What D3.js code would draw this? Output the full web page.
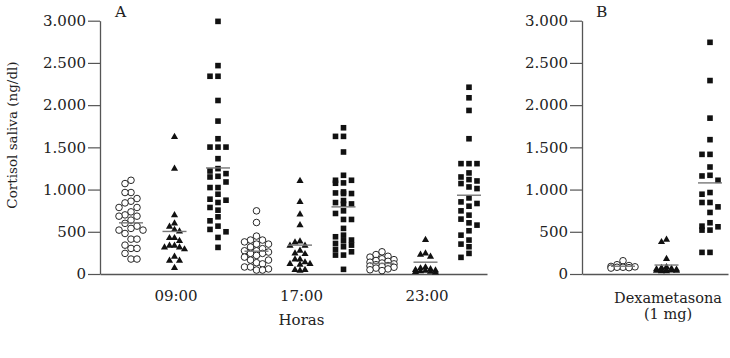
<!DOCTYPE html>
<html>
<head>
<meta charset="utf-8">
<script src="https://cdn.jsdelivr.net/npm/d3@7"></script>
<style>
  body { margin: 0; background: #fff; }
  text { font-family: "DejaVu Serif", serif; fill: #222; }
</style>
</head>
<body>
<div id="chart"></div>
<script>
// valores (ng/dl)
var horas = ["09:00", "17:00", "23:00"];
var series = ["circulo", "triangulo", "cuadrado"];
var yTicks = [0, 500, 1000, 1500, 2000, 2500, 3000];

var circ0900 = [1110, 1071, 965, 965, 894, 862, 842, 788, 788, 736, 700, 685, 685, 638, 600, 567, 540, 520, 520, 480, 413, 413, 342, 303, 303, 244, 177, 177];
var tri0900 = [1630, 1255, 705, 606, 567, 531, 511, 433, 433, 400, 342, 342, 323, 323, 300, 213, 165, 165, 79];
var cuad0900 = [2992, 2468, 2342, 2342, 2055, 1811, 1602, 1503, 1503, 1503, 1366, 1248, 1220, 1189, 1157, 1149, 1090, 1024, 1024, 945, 886, 874, 847, 788, 756, 677, 630, 567, 528, 500, 433, 315];

var circ1700 = [748, 610, 449, 402, 402, 380, 354, 354, 320, 300, 275, 275, 260, 244, 244, 220, 200, 165, 165, 134, 120, 83, 83, 60, 47, 47];
var tri1700 = [1110, 860, 713, 585, 393, 382, 342, 342, 283, 252, 244, 181, 181, 146, 126, 126, 118, 55, 55, 47];
var cuad1700 = [1732, 1630, 1630, 1445, 1169, 1110, 1110, 1079, 1075, 972, 960, 953, 953, 870, 846, 830, 827, 748, 717, 646, 646, 540, 460, 441, 402, 393, 362, 342, 323, 291, 263, 224, 224, 55];

var circ2300 = [263, 230, 210, 200, 180, 170, 160, 150, 140, 130, 120, 110, 100, 95, 90, 80, 70, 60, 50, 40];
var tri2300 = [410, 252, 236, 213, 87, 75, 65, 55, 50, 45, 40, 35, 30, 27];
var cuad2300 = [2212, 2087, 1937, 1602, 1307, 1307, 1307, 1197, 1149, 1118, 1102, 1071, 1031, 1012, 901, 854, 835, 803, 748, 697, 650, 606, 579, 512, 460, 402, 354, 323, 244, 197];

var circDexa = [157, 110, 100, 90, 85, 80, 80, 75, 70];
var triDexa = [413, 386, 185, 90, 80, 70, 65, 60, 55, 50, 50, 45, 45, 40, 40];
var cuadDexa = [2744, 2291, 1846, 1591, 1417, 1417, 1267, 1169, 1161, 1110, 965, 945, 847, 847, 795, 729, 607, 567, 559, 520, 520, 256, 256];

// lineas de media
var media0900 = [606, 504, 1256];
var media1700 = [270, 342, 795];
var media2300 = [125, 140, 933];
var mediaDexa = [92, 106, 1079];

var width = 730, height = 358;

var svg = d3.select("#chart").append("svg")
    .attr("width", width)
    .attr("height", height);

var y = d3.scaleLinear().domain([0, 3000]).range([274, 20.7]);

var locale = d3.formatLocale({ decimal: ",", thousands: ".", grouping: [3], currency: ["", ""] });
var fmt = locale.format(",");

var xA = d3.scalePoint().domain(horas).range([176, 427]);
var xB = d3.scalePoint().domain(["Dexametasona"]).range([668, 668]);
var offset = d3.scalePoint().domain(series).range([-45, 42]);

var panelA = [
    { g: "09:00", vals: [circ0900, tri0900, cuad0900], media: media0900 },
    { g: "17:00", vals: [circ1700, tri1700, cuad1700], media: media1700 },
    { g: "23:00", vals: [circ2300, tri2300, cuad2300], media: media2300 }
];
var panelB = [
    { g: "Dexametasona", vals: [circDexa, triDexa, cuadDexa], media: mediaDexa }
];

// columnas tipo Prism: cada punto va a la columna libre mas cercana al centro,
// si no hay ninguna libre se solapa en la menos ocupada
function swarm(values, cfg) {
    var placed = [];
    var order = [0];
    for (var j = 1; j <= cfg.maxK; j++) { order.push(-j); order.push(j); }
    values.slice().sort(function(a, b) { return b - a }).forEach(function(v) {
        var py = y(v);
        var best = null, bestDist = -1;
        for (var i = 0; i < order.length; i++) {
            var k = order[i];
            var dmin = d3.min(placed.filter(function(p) { return p.k == k }), function(p) { return Math.abs(p.py - py) });
            if (dmin === undefined) dmin = Infinity;
            if (dmin >= cfg.gap) { best = k; break; }
            if (dmin > bestDist) { bestDist = dmin; best = k; }
        }
        placed.push({ v: v, py: py, k: best, dx: best * cfg.step });
    });
    return placed;
}

var shapeCfg = {
    circulo: { step: 6, gap: 7, maxK: 2 },
    triangulo: { step: 5, gap: 5.5, maxK: 2 },
    cuadrado: { step: 8, gap: 6.5, maxK: 1 }
};

var triPath = d3.symbol().type(d3.symbolTriangle).size(22);

function drawPanel(data, xs, axisX, xEnd, letter, letterX) {
    var g = svg.append("g");

    // eje Y
    g.append("g")
        .attr("transform", "translate(" + axisX + ",0)")
        .call(d3.axisLeft(y).tickValues(yTicks).tickFormat(fmt).tickSize(12).tickPadding(2).tickSizeOuter(0))
        .call(function(a) {
            a.select(".domain").attr("stroke", "#555").attr("stroke-width", 1.3);
            a.selectAll(".tick line").attr("stroke", "#555").attr("stroke-width", 1.2);
            a.selectAll(".tick text").attr("font-size", 15).attr("font-family", "DejaVu Serif").attr("fill", "#222");
        });

    // eje X (solo linea)
    var xl = d3.scaleLinear().range([axisX, xEnd]);
    g.append("g")
        .attr("transform", "translate(0," + y(0) + ")")
        .call(d3.axisBottom(xl).tickValues([]).tickSizeOuter(0))
        .call(function(a) { a.select(".domain").attr("stroke", "#555").attr("stroke-width", 1.3); });

    g.append("text")
        .attr("x", letterX).attr("y", 17)
        .attr("font-size", 15.5)
        .text(letter);

    data.forEach(function(grp) {
        var cx = xs(grp.g);
        series.forEach(function(s, si) {
            var x0 = cx + offset(s);
            var pts = swarm(grp.vals[si], shapeCfg[s]);
            var sel = g.append("g").selectAll("path").data(pts).enter();
            if (s == "circulo") {
                sel.append("circle")
                    .attr("cx", function(d) { return x0 + d.dx })
                    .attr("cy", function(d) { return d.py })
                    .attr("r", 3.3)
                    .attr("fill", "#fff")
                    .attr("stroke", "#111")
                    .attr("stroke-width", 0.9);
            } else if (s == "triangulo") {
                sel.append("path")
                    .attr("d", triPath)
                    .attr("transform", function(d) { return "translate(" + (x0 + d.dx) + "," + (d.py + 0.6) + ")" })
                    .attr("fill", "#111");
            } else {
                sel.append("rect")
                    .attr("x", function(d) { return x0 + d.dx - 2.8 })
                    .attr("y", function(d) { return d.py - 2.8 })
                    .attr("width", 5.6)
                    .attr("height", 5.6)
                    .attr("fill", "#111");
            }
            // media
            g.append("line")
                .attr("x1", x0 - 12).attr("x2", x0 + 12)
                .attr("y1", y(grp.media[si])).attr("y2", y(grp.media[si]))
                .attr("stroke", "#777")
                .attr("stroke-width", 1.4);
        });
    });
}

drawPanel(panelA, xA, 100, 487, "A", 115);
drawPanel(panelB, xB, 582, 728, "B", 596);

// etiquetas eje X
svg.append("g").selectAll("text")
    .data(horas)
    .enter()
    .append("text")
    .attr("x", function(d) { return xA(d) })
    .attr("y", 301)
    .attr("text-anchor", "middle")
    .attr("font-size", 15)
    .text(function(d) { return d });

svg.append("text")
    .attr("x", xA("17:00")).attr("y", 325)
    .attr("text-anchor", "middle")
    .attr("font-size", 15)
    .text("Horas");

svg.append("text")
    .attr("x", xB("Dexametasona")).attr("y", 303)
    .attr("text-anchor", "middle")
    .attr("font-size", 14.5)
    .text("Dexametasona");

svg.append("text")
    .attr("x", xB("Dexametasona")).attr("y", 319)
    .attr("text-anchor", "middle")
    .attr("font-size", 14.5)
    .text("(1 mg)");

svg.append("text")
    .attr("transform", "translate(17,135) rotate(-90)")
    .attr("text-anchor", "middle")
    .attr("font-size", 13.5)
    .text("Cortisol saliva (ng/dl)");
</script>
</body>
</html>
